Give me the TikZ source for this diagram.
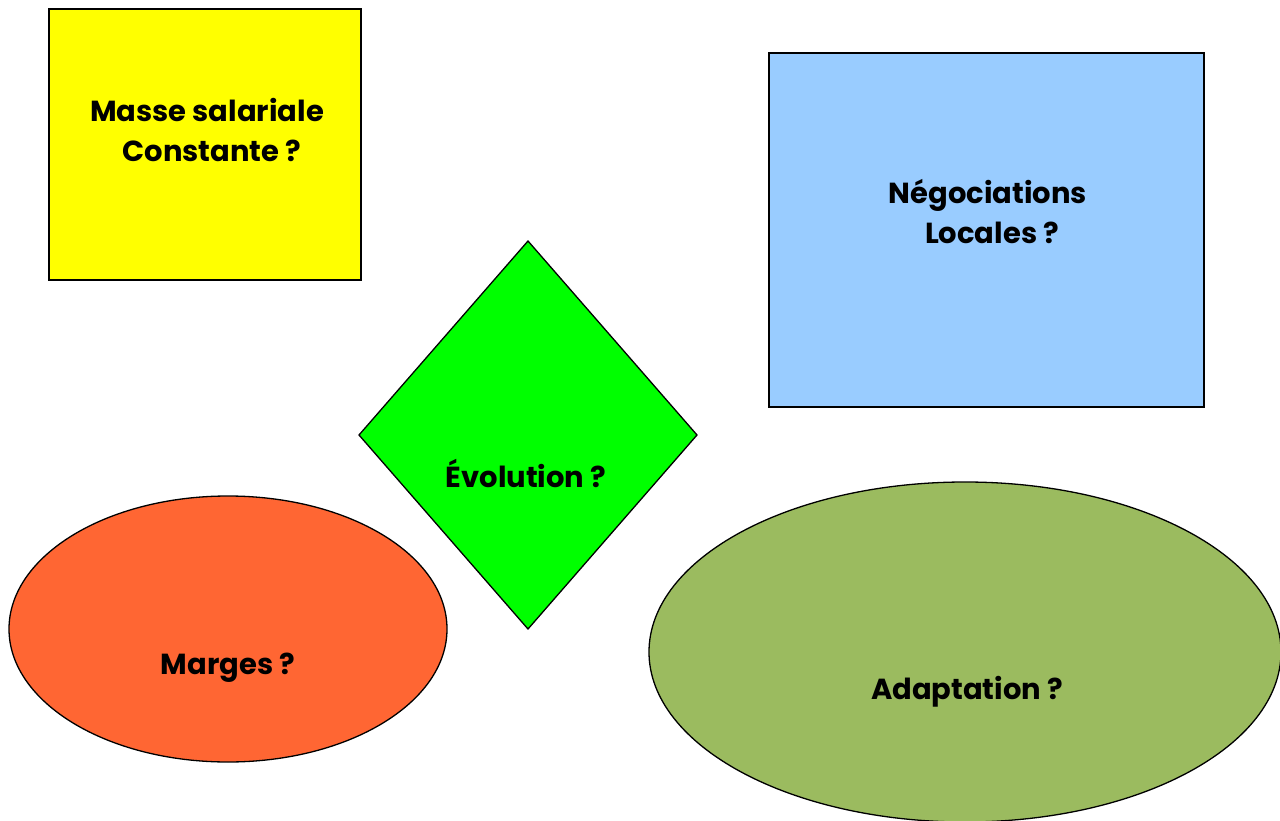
\documentclass[tikz,border=0pt]{standalone}
\usepackage{fontspec}
\setmainfont{Poppins}
\usetikzlibrary{shapes.geometric}
\definecolor{cyellow}{HTML}{FFFF00}
\definecolor{cblue}{HTML}{99CCFF}
\definecolor{cgreen}{HTML}{00FF00}
\definecolor{corange}{HTML}{FF6633}
\definecolor{colive}{HTML}{9BBB5F}
\begin{document}
\begin{tikzpicture}[x=1pt,y=-1pt,
  shapebox/.style={draw=black,line width=1.3pt,inner sep=0pt,outer sep=0pt},
  lbl/.style={font=\fontsize{29}{40}\selectfont\bfseries,align=center,inner sep=0pt,text=black}]
\useasboundingbox (0,0) rectangle (1280,821);
\node[shapebox,fill=cyellow,rectangle,minimum width=312pt,minimum height=271pt] (masse) at (205,144.5) {};
\node[shapebox,fill=cblue,rectangle,minimum width=435pt,minimum height=354pt] (nego) at (986.5,230) {};
\draw[shapebox,fill=cgreen] (528,241) -- (697,435) -- (528,629) -- (359,435) -- cycle;
\coordinate (evo) at (528,435);
\node[shapebox,fill=corange,ellipse,minimum width=438pt,minimum height=266pt] (marges) at (228,629) {};
\node[shapebox,fill=colive,ellipse,minimum width=632pt,minimum height=340pt] (adapt) at (965,652) {};
\node[lbl] (tmasse) at (207,130) {Masse salariale\\ \hspace*{10pt}Constante ?};
\node[lbl] (tnego) at (988,212) {Négociations\\ \hspace*{8pt}Locales ?};
\node[lbl] (tevo) at (526,473) {Évolution ?};
\node[lbl] (tmarges) at (228,668) {Marges ?};
\node[lbl] (tadapt) at (967,692) {Adaptation ?};
\end{tikzpicture}
\end{document}
